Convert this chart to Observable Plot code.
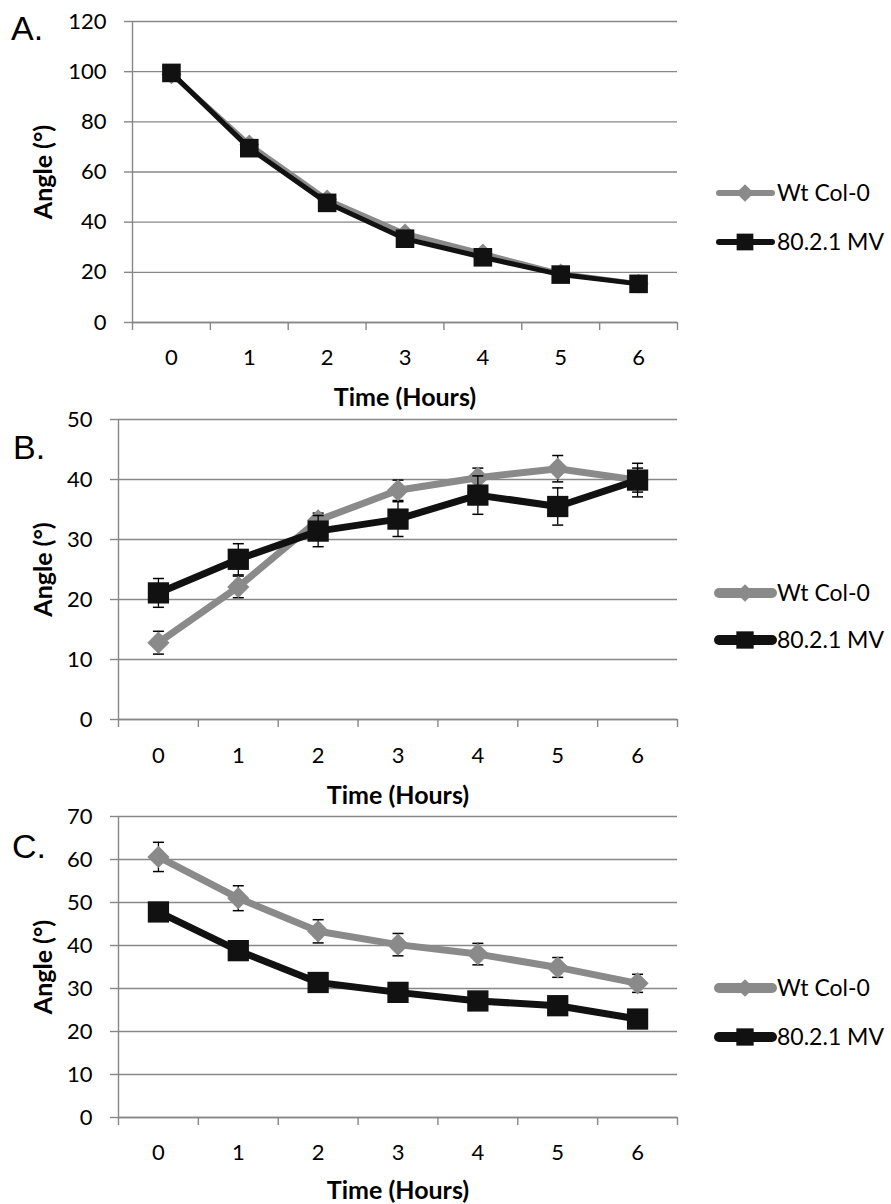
<!DOCTYPE html>
<html>
<head>
<meta charset="utf-8">
<script src="https://cdn.jsdelivr.net/npm/d3@7"></script>
<script src="https://cdn.jsdelivr.net/npm/@observablehq/plot@0.6"></script>
<style>
  html, body { margin: 0; padding: 0; background: #fff; }
  #root { position: relative; width: 891px; height: 1204px; overflow: hidden; }
  .panel { position: absolute; left: 0; }
  .letter { position: absolute; font-family: "Liberation Sans", Arial, sans-serif; font-size: 34px; line-height: 1; color: #000; }
  svg { overflow: visible; }
</style>
</head>
<body>
<div id="root"></div>
<script>
// ---------- data ----------
const hours = [0, 1, 2, 3, 4, 5, 6];
const seriesNames = ["Wt Col-0", "80.2.1 MV"];
const panelLetters = ["A.", "B.", "C."];
const xTitle = "Time (Hours)";
const yTitle = "Angle (°)";

// Panel A
const aWt = [99.0, 71.0, 49.0, 35.5, 27.5, 19.5, 15.5];
const aMv = [99.5, 69.5, 47.7, 33.4, 26.0, 19.1, 15.4];
const aTicks = [0, 20, 40, 60, 80, 100, 120];

// Panel B
const bWt = [12.8, 22.1, 33.2, 38.2, 40.3, 41.8, 39.9];
const bWtErr = [1.9, 1.8, 1.2, 1.7, 1.6, 2.2, 2.0];
const bMv = [21.1, 26.7, 31.4, 33.4, 37.4, 35.5, 39.9];
const bMvErr = [2.4, 2.6, 2.6, 2.9, 3.2, 3.1, 2.8];
const bTicks = [0, 10, 20, 30, 40, 50];

// Panel C
const cWt = [60.6, 51.0, 43.3, 40.2, 38.0, 34.9, 31.2];
const cWtErr = [3.4, 2.9, 2.7, 2.6, 2.5, 2.3, 2.1];
const cMv = [47.8, 38.8, 31.4, 29.1, 27.1, 26.0, 22.9];
const cMvErr = [1.5, 1.5, 1.5, 1.5, 1.5, 1.5, 1.5];
const cTicks = [0, 10, 20, 30, 40, 50, 60, 70];

// ---------- style ----------
const GRID = "#878787";
const GRAY = "#8a8a8a";
const BLACK = "#111111";
const FONT = "Lato, 'Open Sans', sans-serif";
const TICK_FS = 22;

const capSymbol = {
  draw(context) { context.moveTo(-5.5, 0); context.lineTo(5.5, 0); }
};

const root = document.getElementById("root");

function panel(cfg) {
  const rows = hours.map((h, i) => ({
    hour: h,
    wt: cfg.wt[i], wtErr: cfg.wtErr ? cfg.wtErr[i] : 0,
    mv: cfg.mv[i], mvErr: cfg.mvErr ? cfg.mvErr[i] : 0
  }));
  const bounds = hours.map(h => h - 0.5).concat([hours[hours.length - 1] + 0.5]);
  const ticks = cfg.ticks;
  const errMarks = (key, errKey) => cfg.wtErr ? [
    Plot.ruleX(rows, {x: "hour", y1: d => d[key] - d[errKey], y2: d => d[key] + d[errKey], stroke: "#000", strokeWidth: 1.3}),
    Plot.dot(rows, {x: "hour", y: d => d[key] + d[errKey], symbol: capSymbol, stroke: "#000", strokeWidth: 1.5, fill: "none"}),
    Plot.dot(rows, {x: "hour", y: d => d[key] - d[errKey], symbol: capSymbol, stroke: "#000", strokeWidth: 1.5, fill: "none"})
  ] : [];

  const chart = Plot.plot({
    width: 891,
    height: cfg.height,
    marginTop: cfg.mt,
    marginBottom: cfg.mb,
    marginLeft: cfg.ml,
    marginRight: 214,
    style: {fontFamily: FONT, fontSize: TICK_FS + "px", color: "#000", background: "transparent", overflow: "visible"},
    x: {domain: [bounds[0], bounds[bounds.length - 1]]},
    y: {domain: [ticks[0], ticks[ticks.length - 1]]},
    marks: [
      Plot.gridY(ticks, {stroke: GRID, strokeOpacity: 1, strokeWidth: 1.4}),
      Plot.axisY(ticks, {tickSize: 8, tickFormat: () => "", stroke: GRID, strokeWidth: 1.4, label: null}),
      Plot.text(ticks, {y: d => d, frameAnchor: "left", dx: -26, textAnchor: "end", lineAnchor: "middle", fontSize: TICK_FS, fill: "#000"}),
      Plot.ruleX([bounds[0]], {stroke: GRID, strokeWidth: 1.4}),
      Plot.ruleY([ticks[0]], {stroke: GRID, strokeWidth: 1.4}),
      Plot.axisX(bounds, {tickSize: 8, tickFormat: () => "", stroke: GRID, strokeWidth: 1.4, label: null}),
      Plot.text(hours, {x: d => d, frameAnchor: "bottom", dy: cfg.xTickDy, textAnchor: "middle", lineAnchor: "middle", fontSize: TICK_FS, fill: "#000"}),
      Plot.text([xTitle], {frameAnchor: "bottom", dy: cfg.xLabelDy, fontWeight: "bold", fontSize: 25, lineAnchor: "middle", textAnchor: "middle", fill: "#000"}),
      Plot.text([yTitle], {frameAnchor: "left", rotate: -90, dx: -(cfg.ml - 43), fontWeight: "bold", fontSize: 25, lineAnchor: "middle", textAnchor: "middle", fill: "#000"}),
      // Wt series
      ...errMarks("wt", "wtErr"),
      Plot.line(rows, {x: "hour", y: "wt", stroke: GRAY, strokeWidth: cfg.lw, strokeLinejoin: "round"}),
      Plot.dot(rows, {x: "hour", y: "wt", symbol: "diamond2", r: cfg.dr, fill: GRAY, stroke: "none"}),
      // MV series
      ...errMarks("mv", "mvErr"),
      Plot.line(rows, {x: "hour", y: "mv", stroke: BLACK, strokeWidth: cfg.lw, strokeLinejoin: "round"}),
      Plot.dot(rows, {x: "hour", y: "mv", symbol: "square", r: cfg.sr, fill: BLACK, stroke: "none"})
    ]
  });
  const wrap = document.createElement("div");
  wrap.className = "panel";
  wrap.style.top = cfg.top + "px";
  wrap.appendChild(chart);
  root.appendChild(wrap);

  // panel letter
  const letter = document.createElement("div");
  letter.className = "letter";
  letter.textContent = cfg.letter;
  letter.style.left = cfg.letterX + "px";
  letter.style.top = cfg.letterY + "px";
  root.appendChild(letter);

  // legend
  const lg = d3.select(root).append("svg")
    .attr("width", 891).attr("height", 1204)
    .style("position", "absolute").style("left", "0px").style("top", "0px");
  const items = [
    {name: seriesNames[0], color: GRAY, sym: d3.symbolDiamond2, size: cfg.legDia, y: cfg.legY[0]},
    {name: seriesNames[1], color: BLACK, sym: d3.symbolSquare, size: cfg.legSq, y: cfg.legY[1]}
  ];
  const g = lg.selectAll("g").data(items).join("g").attr("transform", d => `translate(0,${d.y})`);
  g.append("line").attr("x1", 719).attr("x2", 772).attr("y1", 0).attr("y2", 0)
    .attr("stroke", d => d.color).attr("stroke-width", cfg.legLw).attr("stroke-linecap", "round");
  g.append("path").attr("transform", "translate(745,0)")
    .attr("d", d => d3.symbol(d.sym, d.size)()).attr("fill", d => d.color);
  g.append("text").attr("x", 777).attr("y", 0).attr("dy", "0.35em")
    .attr("font-family", FONT).attr("font-size", 23).attr("fill", "#000").text(d => d.name);
}

panel({top: 0, height: 405, mt: 21, mb: 83, ml: 132, ticks: aTicks, wt: aWt, mv: aMv, wtErr: null, mvErr: null,
  lw: 5, dr: 9, sr: 10.5, xTickDy: 35, xLabelDy: 75, letter: panelLetters[0], letterX: 11, letterY: 11,
  legY: [193, 242], legLw: 6, legDia: 200, legSq: 280});
panel({top: 400, height: 400, mt: 19, mb: 81, ml: 118, ticks: bTicks, wt: bWt, mv: bMv, wtErr: bWtErr, mvErr: bMvErr,
  lw: 7, dr: 10, sr: 12, xTickDy: 36, xLabelDy: 76, letter: panelLetters[1], letterX: 13, letterY: 430,
  legY: [593, 640], legLw: 10, legDia: 200, legSq: 300});
panel({top: 800, height: 404, mt: 16, mb: 87, ml: 118, ticks: cTicks, wt: cWt, mv: cMv, wtErr: cWtErr, mvErr: cMvErr,
  lw: 7, dr: 10, sr: 12, xTickDy: 35, xLabelDy: 73, letter: panelLetters[2], letterX: 12, letterY: 829,
  legY: [988, 1037], legLw: 10, legDia: 200, legSq: 300});
</script>
</body>
</html>
